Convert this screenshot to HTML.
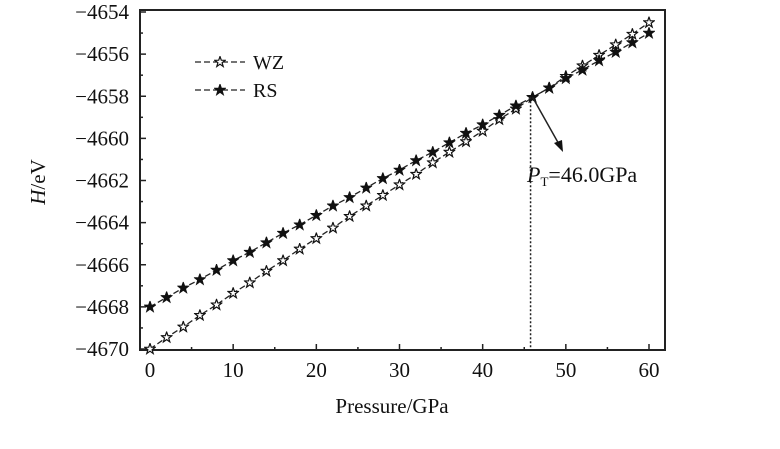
<!DOCTYPE html>
<html><head><meta charset="utf-8"><style>
body{margin:0;background:#fff;}
svg text{font-family:"Liberation Serif","Noto Serif CJK SC",serif;fill:#111;}
</style></head><body>
<svg id="chart" width="780" height="444" viewBox="0 0 780 444">
<defs>
<symbol id="star" viewBox="-6 -6 12 12"><polygon points="0,-5.5 1.3,-1.8 5.2,-1.7 2.1,0.7 3.2,4.5 0,2.2 -3.2,4.5 -2.1,0.7 -5.2,-1.7 -1.3,-1.8"/></symbol>
</defs>
<g id="plot"></g>
</svg>
<script>
const pressures=[0,2,4,6,8,10,12,14,16,18,20,22,24,26,28,30,32,34,36,38,40,42,44,46,48,50,52,54,56,58,60];
const wzValues=[-4670,-4669.45,-4668.95,-4668.4,-4667.9,-4667.35,-4666.85,-4666.3,-4665.8,-4665.25,-4664.75,-4664.25,-4663.7,-4663.2,-4662.7,-4662.2,-4661.7,-4661.15,-4660.65,-4660.15,-4659.65,-4659.1,-4658.6,-4658.05,-4657.6,-4657.05,-4656.55,-4656.05,-4655.55,-4655.05,-4654.5];
const rsValues=[-4668,-4667.55,-4667.1,-4666.7,-4666.25,-4665.8,-4665.4,-4664.95,-4664.5,-4664.1,-4663.65,-4663.2,-4662.8,-4662.35,-4661.9,-4661.5,-4661.05,-4660.65,-4660.2,-4659.75,-4659.35,-4658.9,-4658.45,-4658.05,-4657.6,-4657.15,-4656.75,-4656.3,-4655.9,-4655.45,-4655];
const xTicks=[0,10,20,30,40,50,60];
const yTicks=[-4654,-4656,-4658,-4660,-4662,-4664,-4666,-4668,-4670];
const transitionP=46.0;
const transitionH=-4658.05;

const NS='http://www.w3.org/2000/svg';
const g=document.getElementById('plot');
const L=140,R=665,T=10,B=350;
const xs=p=>150+(p-0)*(649-150)/60;
const ys=h=>349-(h+4670)*(349-12)/16;
function el(tag,attrs,parent){const e=document.createElementNS(NS,tag);for(const k in attrs)e.setAttribute(k,attrs[k]);(parent||g).appendChild(e);return e;}

const frame=el('rect',{x:L,y:T,width:R-L,height:B-T,fill:'none',stroke:'#222','stroke-width':2});



for(let v=0;v<=60;v+=5){
  const len=v%10===0?6:3;
  const t=el('line',{x1:xs(v),x2:xs(v),y1:B,y2:B-len,stroke:'#222','stroke-width':1.5});
  
  
}
xTicks.forEach(v=>{
  const t=el('text',{x:xs(v),y:377,'font-size':21,'text-anchor':'middle'});t.textContent=v;
  
  
});
for(let v=-4670;v<=-4654;v+=1){
  const len=v%2===0?6:3;
  const t=el('line',{x1:L,x2:L+len,y1:ys(v),y2:ys(v),stroke:'#222','stroke-width':1.5});
  
  
}
yTicks.forEach(v=>{
  const t=el('text',{x:129,y:ys(v)+7,'font-size':21,'text-anchor':'end'});t.textContent=String(v).replace('-','\u2212');
  
  
});

function series(vals,filled,name){
  const pts=pressures.map((p,i)=>xs(p)+','+ys(vals[i])).join(' ');
  const pl=el('polyline',{points:pts,fill:'none',stroke:'#222','stroke-width':1.3,'stroke-dasharray':'6,3'});
  
  
  pressures.forEach((p,i)=>{
    const m=el('use',{href:'#star',x:xs(p)-6,y:ys(vals[i])-6,width:12,height:12,fill:filled?'#111':'#fff',stroke:'#111','stroke-width':1.2});
    
    
  });
}
series(wzValues,false,'wz');
series(rsValues,true,'rs');

[['WZ',false,62],['RS',true,90]].forEach(([lab,f,y])=>{
  const ln=el('line',{x1:195,x2:245,y1:y,y2:y,stroke:'#222','stroke-width':1.3,'stroke-dasharray':'6,3'});
  
  
  const m=el('use',{href:'#star',x:214,y:y-6,width:12,height:12,fill:f?'#111':'#fff',stroke:'#111','stroke-width':1.2});
  
  
  const t=el('text',{x:253,y:y+7,'font-size':20});t.textContent=lab;
  
  
});

const vx=xs(transitionP)-2,vy=ys(transitionH);
const dl=el('line',{x1:vx,x2:vx,y1:vy,y2:B,stroke:'#222','stroke-width':1.5,'stroke-dasharray':'2,2'});


const ar=el('line',{x1:vx+2,y1:vy,x2:560,y2:146,stroke:'#222','stroke-width':1.5});


const ah=el('polygon',{points:'563,152 554,143 562,140',fill:'#111'});


const pt=el('text',{x:527,y:182,'font-size':22});
pt.innerHTML='<tspan font-style="italic">P</tspan><tspan font-size="13" dy="4">T</tspan><tspan dy="-4">=46.0GPa</tspan>';



const xt=el('text',{x:392,y:413,'font-size':21,'text-anchor':'middle'});xt.textContent='Pressure/GPa';


const yt=el('text',{x:0,y:0,'font-size':21,'text-anchor':'middle',transform:'translate(45,182) rotate(-90)'});
yt.innerHTML='<tspan font-style="italic">H</tspan>/eV';


</script>
</body></html>
